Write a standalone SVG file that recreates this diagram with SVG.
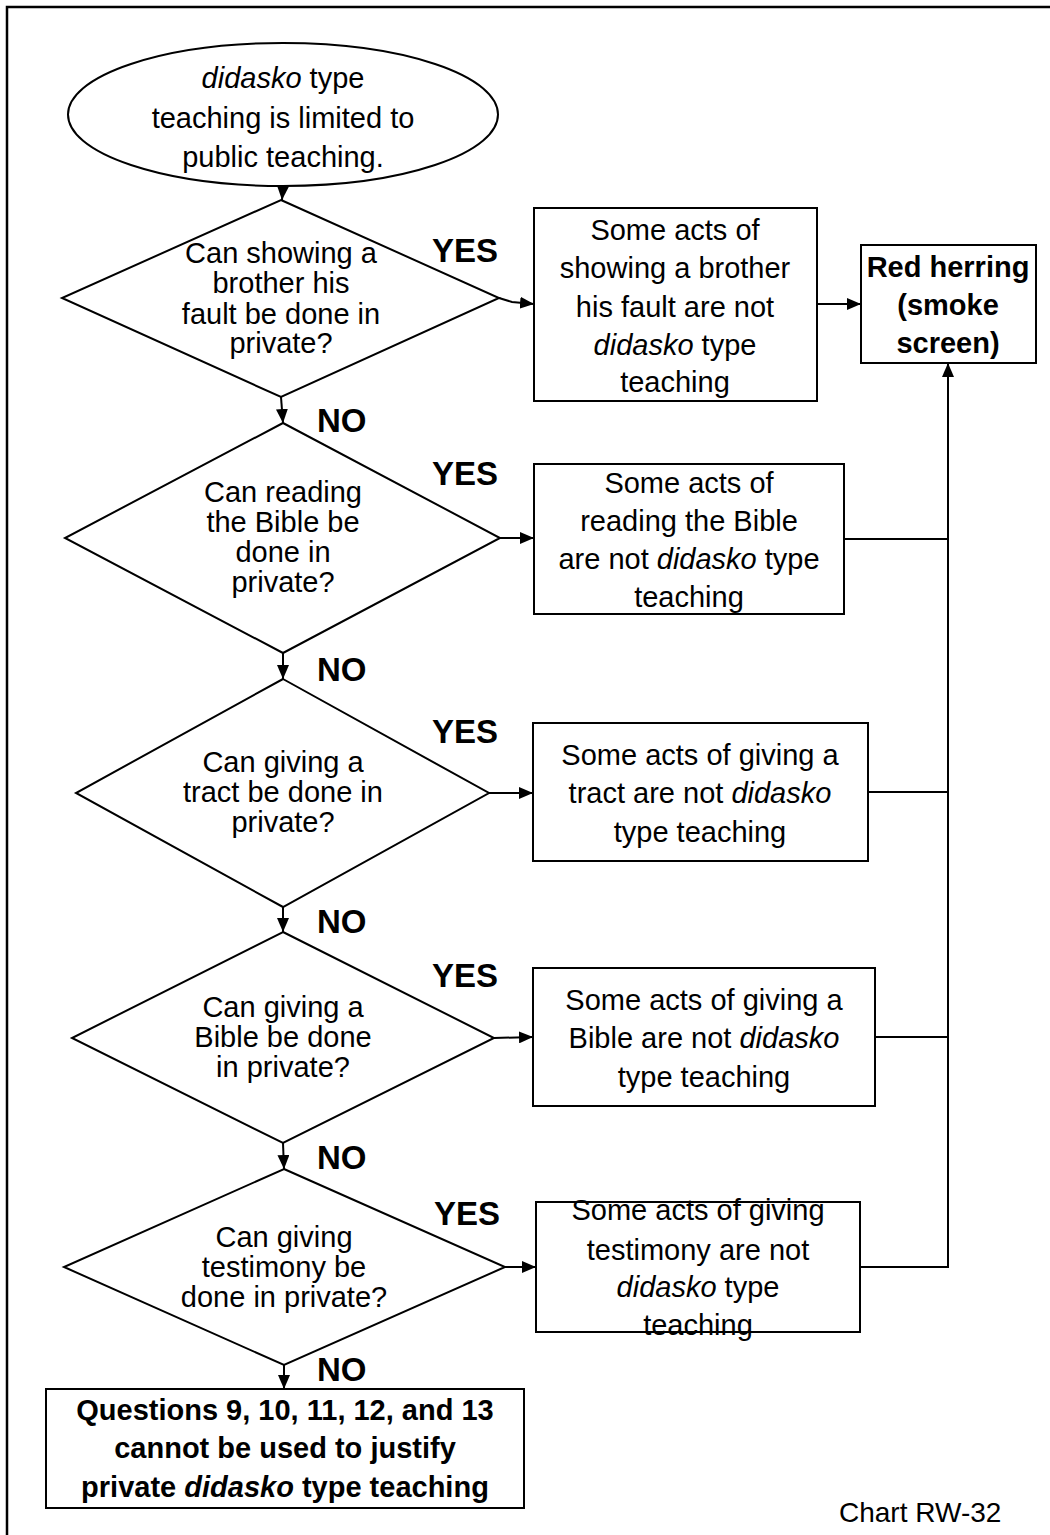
<svg xmlns="http://www.w3.org/2000/svg" width="1050" height="1535" viewBox="0 0 1050 1535">
<style>
  .shape { fill: #ffffff; stroke: #000000; stroke-width: 2; }
  .conn { fill: none; stroke: #000000; stroke-width: 2; }
  text { font-family: "Liberation Sans", Arial, sans-serif; font-size: 29px; fill: #000000; text-anchor: middle; }
  .b { font-weight: bold; }
  .lbl { font-weight: bold; font-size: 33px; text-anchor: start; }
  .i { font-style: italic; }
</style>
<defs>
  <marker id="arrow" viewBox="0 0 14 12" refX="14" refY="6" markerWidth="14" markerHeight="12" markerUnits="userSpaceOnUse" orient="auto">
    <path d="M0,0 L14,6 L0,12 Z" fill="#000000"/>
  </marker>
</defs>
<rect width="1050" height="1535" fill="#ffffff"/>
<path d="M7,1535 V7 H1050" fill="none" stroke="#000000" stroke-width="2.5"/>

<g id="connectors">
  <path class="conn" d="M283,186 L282,200" marker-end="url(#arrow)"/>
  <path class="conn" d="M281,397 L283,423" marker-end="url(#arrow)"/>
  <path class="conn" d="M283,653 L283,679" marker-end="url(#arrow)"/>
  <path class="conn" d="M283,907 L283,932" marker-end="url(#arrow)"/>
  <path class="conn" d="M283,1143 L284,1169" marker-end="url(#arrow)"/>
  <path class="conn" d="M284,1365 L284,1389" marker-end="url(#arrow)"/>
  <path class="conn" d="M499,298 L512,302 L534,304" marker-end="url(#arrow)"/>
  <path class="conn" d="M500,538 L534,538" marker-end="url(#arrow)"/>
  <path class="conn" d="M489,793 L533,793" marker-end="url(#arrow)"/>
  <path class="conn" d="M494,1038 L533,1037" marker-end="url(#arrow)"/>
  <path class="conn" d="M505,1267 L536,1267" marker-end="url(#arrow)"/>
  <path class="conn" d="M817,304 L861,304" marker-end="url(#arrow)"/>
  <path class="conn" d="M844,539 H948"/>
  <path class="conn" d="M868,792 H948"/>
  <path class="conn" d="M875,1037 H948"/>
  <path class="conn" d="M860,1267 H948 V363" marker-end="url(#arrow)"/>
  <text class="lbl" x="432" y="262">YES</text>
  <text class="lbl" x="432" y="485">YES</text>
  <text class="lbl" x="432" y="743">YES</text>
  <text class="lbl" x="432" y="987">YES</text>
  <text class="lbl" x="434" y="1225">YES</text>
  <text class="lbl" x="317" y="432">NO</text>
  <text class="lbl" x="317" y="681">NO</text>
  <text class="lbl" x="317" y="933">NO</text>
  <text class="lbl" x="317" y="1169">NO</text>
  <text class="lbl" x="317" y="1381">NO</text>
</g>

<g id="start">
  <ellipse class="shape" cx="283" cy="114.5" rx="215" ry="71.5"/>
  <text x="283" y="88"><tspan class="i">didasko</tspan> type</text>
  <text x="283" y="128">teaching is limited to</text>
  <text x="283" y="167">public teaching.</text>
</g>

<g id="q1">
  <polygon class="shape" points="281,200 499,298 281,397 62,298"/>
  <text x="281" y="263">Can showing a</text>
  <text x="281" y="293">brother his</text>
  <text x="281" y="324">fault be done in</text>
  <text x="281" y="353">private?</text>
</g>

<g id="a1">
  <rect class="shape" x="534" y="208" width="283" height="193"/>
  <text x="675" y="240">Some acts of</text>
  <text x="675" y="278">showing a brother</text>
  <text x="675" y="317">his fault are not</text>
  <text x="675" y="355"><tspan class="i">didasko</tspan> type</text>
  <text x="675" y="392">teaching</text>
</g>

<g id="redherring">
  <rect class="shape" x="861" y="245" width="175" height="118"/>
  <text class="b" x="948" y="277">Red herring</text>
  <text class="b" x="948" y="315">(smoke</text>
  <text class="b" x="948" y="353">screen)</text>
</g>

<g id="q2">
  <polygon class="shape" points="283,423 500,538 283,653 65,538"/>
  <text x="283" y="502">Can reading</text>
  <text x="283" y="532">the Bible be</text>
  <text x="283" y="562">done in</text>
  <text x="283" y="592">private?</text>
</g>

<g id="a2">
  <rect class="shape" x="534" y="464" width="310" height="150"/>
  <text x="689" y="493">Some acts of</text>
  <text x="689" y="531">reading the Bible</text>
  <text x="689" y="569">are not <tspan class="i">didasko</tspan> type</text>
  <text x="689" y="607">teaching</text>
</g>

<g id="q3">
  <polygon class="shape" points="283,679 489,793 283,907 76,793"/>
  <text x="283" y="772">Can giving a</text>
  <text x="283" y="802">tract be done in</text>
  <text x="283" y="832">private?</text>
</g>

<g id="a3">
  <rect class="shape" x="533" y="723" width="335" height="138"/>
  <text x="700" y="765">Some acts of giving a</text>
  <text x="700" y="803">tract are not <tspan class="i">didasko</tspan></text>
  <text x="700" y="842">type teaching</text>
</g>

<g id="q4">
  <polygon class="shape" points="283,932 494,1038 283,1143 72,1038"/>
  <text x="283" y="1017">Can giving a</text>
  <text x="283" y="1047">Bible be done</text>
  <text x="283" y="1077">in private?</text>
</g>

<g id="a4">
  <rect class="shape" x="533" y="968" width="342" height="138"/>
  <text x="704" y="1010">Some acts of giving a</text>
  <text x="704" y="1048">Bible are not <tspan class="i">didasko</tspan></text>
  <text x="704" y="1087">type teaching</text>
</g>

<g id="q5">
  <polygon class="shape" points="284,1169 505,1267 284,1365 64,1267"/>
  <text x="284" y="1247">Can giving</text>
  <text x="284" y="1277">testimony be</text>
  <text x="284" y="1307">done in private?</text>
</g>

<g id="a5">
  <rect class="shape" x="536" y="1202" width="324" height="130"/>
  <text x="698" y="1220">Some acts of giving</text>
  <text x="698" y="1260">testimony are not</text>
  <text x="698" y="1297"><tspan class="i">didasko</tspan> type</text>
  <text x="698" y="1335">teaching</text>
</g>

<g id="conclusion">
  <rect class="shape" x="46" y="1389" width="478" height="119"/>
  <text class="b" x="285" y="1420">Questions 9, 10, 11, 12, and 13</text>
  <text class="b" x="285" y="1458">cannot be used to justify</text>
  <text class="b" x="285" y="1497">private <tspan class="i">didasko</tspan> type teaching</text>
</g>

<g id="caption">
  <text x="839" y="1522" style="text-anchor:start;font-size:28px">Chart RW-32</text>
</g>
</svg>
